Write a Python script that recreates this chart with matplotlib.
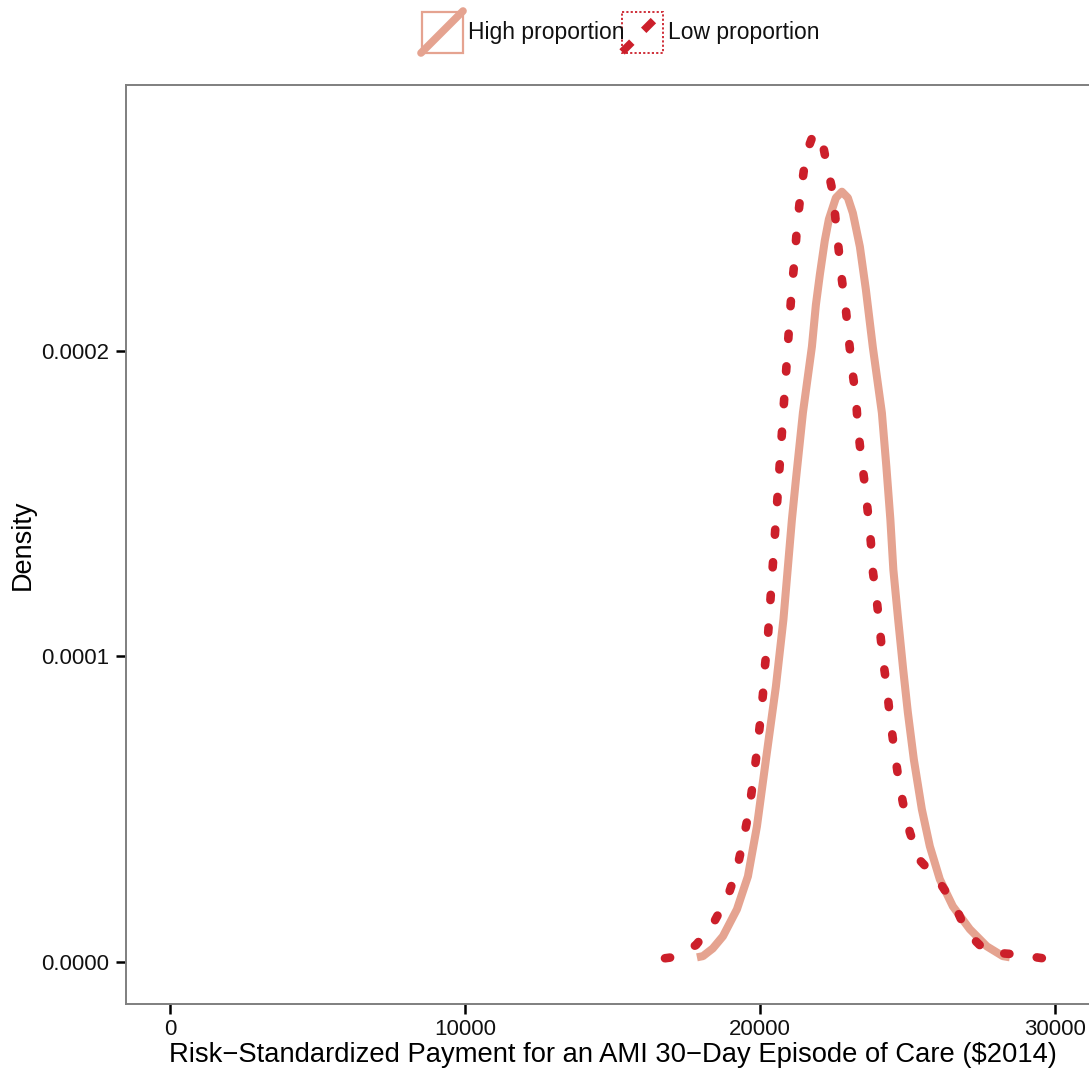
import matplotlib
matplotlib.use("Agg")
import matplotlib.pyplot as plt
from matplotlib.patches import Rectangle
import numpy as np

plt.rcParams['font.family'] = ['Liberation Sans', 'DejaVu Sans']

# density curves (x in $, density in units of 1e-4)
high_x = [17864, 18068, 18400, 18746, 19220, 19593, 19898, 20204, 20542, 20797,
          21085, 21220, 21458, 21763, 21898, 22034, 22200, 22339, 22576, 22780,
          22983, 23153, 23390, 23593, 23831, 24136, 24288, 24424, 24525, 24688,
          24858, 25017, 25220, 25492, 25763, 26102, 26542, 27119, 27695, 28237,
          28475]
high_y = [0.016, 0.020, 0.045, 0.085, 0.173, 0.281, 0.444, 0.663, 0.902, 1.121,
          1.448, 1.578, 1.797, 2.013, 2.150, 2.250, 2.360, 2.430, 2.500, 2.520,
          2.500, 2.450, 2.340, 2.200, 2.010, 1.797, 1.621, 1.448, 1.284, 1.121,
          0.958, 0.817, 0.663, 0.500, 0.379, 0.271, 0.183, 0.108, 0.052, 0.020,
          0.016]

low_x = [16780, 17017, 17831, 18441, 18915, 19220, 19424, 19627, 19763, 19864,
         20000, 20102, 20169, 20271, 20339, 20407, 20475, 20542, 20610, 20678,
         20746, 20814, 20881, 20949, 21017, 21085, 21186, 21254, 21356, 21492,
         21627, 21800, 21966, 22102, 22271, 22475, 22576, 22678, 22780, 22915,
         23017, 23119, 23254, 23322, 23424, 23559, 23661, 23763, 23831, 23966,
         24068, 24169, 24305, 24407, 24542, 24678, 24847, 25085, 25390, 25750,
         26068, 26610, 27017, 27695, 28644, 29593, 29850]
low_y = [0.013, 0.016, 0.056, 0.131, 0.216, 0.304, 0.395, 0.493, 0.588, 0.663,
         0.778, 0.876, 0.967, 1.065, 1.160, 1.258, 1.350, 1.448, 1.539, 1.637,
         1.732, 1.830, 1.922, 2.020, 2.118, 2.209, 2.307, 2.402, 2.493, 2.592,
         2.660, 2.705, 2.712, 2.690, 2.608, 2.516, 2.418, 2.324, 2.232, 2.134,
         2.036, 1.944, 1.850, 1.752, 1.660, 1.562, 1.471, 1.373, 1.278, 1.180,
         1.088, 0.993, 0.899, 0.804, 0.706, 0.614, 0.523, 0.425, 0.337, 0.300,
         0.265, 0.186, 0.098, 0.033, 0.026, 0.013, 0.010]

series_names = ['High proportion', 'Low proportion']
series_colors = ['#E5A390', '#CC1F2A']

x_ticks = [0, 10000, 20000, 30000]
y_ticks = [0.0000, 0.0001, 0.0002]

W, H = 1089, 1072
fig = plt.figure(figsize=(W / 100, H / 100), dpi=100)
ax = fig.add_axes([126 / W, (H - 1004) / H, (1099 - 126) / W, (1004 - 85) / H])

hy = np.array(high_y) * 1e-4
ly = np.array(low_y) * 1e-4
ax.plot(high_x, hy, color=series_colors[0], lw=5.8, solid_joinstyle='round',
        solid_capstyle='butt', zorder=2)
ax.plot(low_x, ly, color=series_colors[1], lw=6.2, linestyle=(0, (0.6, 3.2)),
        dash_capstyle='round', zorder=3)

ax.set_xlim(-1500, 31500)
ax.set_ylim(-1.366e-5, 2.869e-4)
ax.set_xticks(x_ticks)
ax.set_xticklabels([str(v) for v in x_ticks])
ax.set_yticks(y_ticks)
ax.set_yticklabels(['%.4f' % v for v in y_ticks])
ax.tick_params(axis='both', length=7, width=1.8, color='black', labelsize=16,
               labelcolor='#111111')
ax.tick_params(axis='x', pad=4)
ax.tick_params(axis='y', pad=5)
for s in ax.spines.values():
    s.set_color('#7f7f7f')
    s.set_linewidth(1.4)
ax.set_xlabel('Risk\u2212Standardized Payment for an AMI 30\u2212Day Episode of Care ($2014)',
              fontsize=19.7, labelpad=1)
ax.set_ylabel('Density', fontsize=19.5, labelpad=4)

# legend drawn in pixel coordinates on an overlay
lax = fig.add_axes([0, 0, 1, 1])
lax.set_xlim(0, W)
lax.set_ylim(H, 0)
lax.axis('off')

lax.add_patch(Rectangle((422, 12), 41, 41, fill=False, edgecolor=series_colors[0], lw=1.6))
lax.plot([421, 463], [53, 11], color=series_colors[0], lw=5.5, solid_capstyle='round')
lax.text(468, 33, series_names[0], fontsize=16.5, va='center', ha='left', color='#111111')

lax.add_patch(Rectangle((622, 12), 41, 41, fill=False, edgecolor=series_colors[1], lw=1.3,
                        linestyle=(0, (1.2, 1.2))))
lax.plot([621, 663], [53, 11], color=series_colors[1], lw=5.5,
         linestyle=(-0.2, (1.8, 2.2)), dash_capstyle='butt')
lax.text(668, 33, series_names[1], fontsize=16.5, va='center', ha='left', color='#111111')

fig.savefig('out.png', dpi=100)
